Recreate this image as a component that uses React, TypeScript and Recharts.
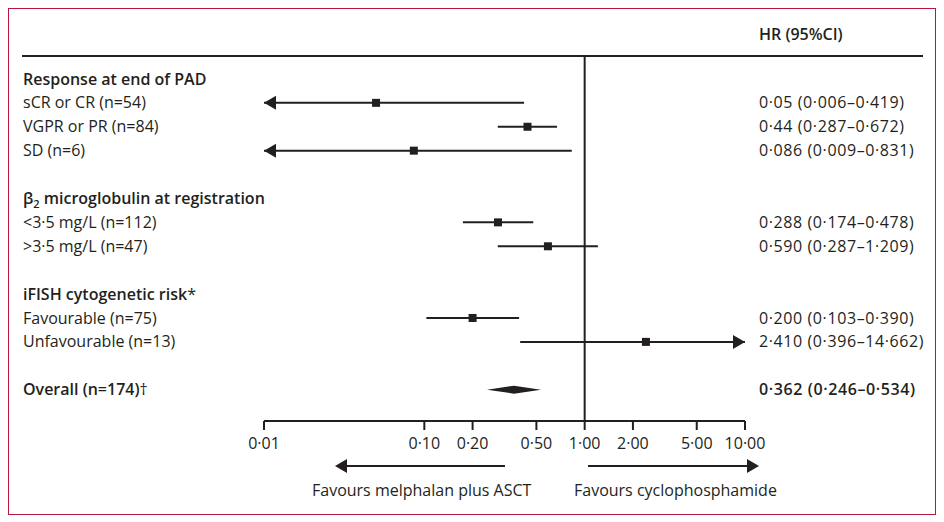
import React from 'react';
import { ScatterChart, Scatter, XAxis, YAxis, ReferenceLine } from 'recharts';

// subgroup rows (row index = vertical slot in the table)
const subgroups = [
    'sCR or CR (n=54)',
    'VGPR or PR (n=84)',
    'SD (n=6)',
    '<3·5 mg/L (n=112)',
    '>3·5 mg/L (n=47)',
    'Favourable (n=75)',
    'Unfavourable (n=13)',
];
const subgroupRows = [1, 2, 3, 6, 7, 10, 11];
const hr = [0.05, 0.44, 0.086, 0.288, 0.59, 0.2, 2.41];
const ciLow = [0.006, 0.287, 0.009, 0.174, 0.287, 0.103, 0.396];
const ciHigh = [0.419, 0.672, 0.831, 0.478, 1.209, 0.39, 14.662];
const hrText = [
    '0·05 (0·006–0·419)',
    '0·44 (0·287–0·672)',
    '0·086 (0·009–0·831)',
    '0·288 (0·174–0·478)',
    '0·590 (0·287–1·209)',
    '0·200 (0·103–0·390)',
    '2·410 (0·396–14·662)',
];

const groupHeaders = ['Response at end of PAD', 'β2 microglobulin at registration', 'iFISH cytogenetic risk'];
const groupRows = [0, 5, 9];

const overallLabel = 'Overall (n=174)';
const overallRow = 13;
const overallLow = 0.246;
const overallHigh = 0.534;
const overallText = '0·362 (0·246–0·534)';

const xTicks = [0.01, 0.1, 0.2, 0.5, 1, 2, 5, 10];
const xTickLabels = ['0·01', '0·10', '0·20', '0·50', '1·00', '2·00', '5·00', '10·00'];
const xMin = 0.01;
const xMax = 10;

const ink = '#231f20';
const font = '"Open Sans", sans-serif';
const rowDomain = [-0.96, 14.31];

const LeftTick = (props: any) => {
    const v = props.payload.value;
    const g = groupRows.indexOf(v);
    const s = subgroupRows.indexOf(v);
    const common = { x: 14, y: props.y, dy: '0.35em', fill: ink, fontSize: 16, fontFamily: font };
    if (g === 1) {
        return (
            <text {...common} fontWeight={600}>
                <tspan>β</tspan>
                <tspan dy={4} fontSize={11}>2</tspan>
                <tspan dy={-4}> microglobulin at registration</tspan>
            </text>
        );
    }
    if (g === 2) {
        return (
            <text {...common} fontWeight={600}>
                {groupHeaders[g]}
                <tspan fontWeight={400}>*</tspan>
            </text>
        );
    }
    if (g >= 0) return <text {...common} fontWeight={600}>{groupHeaders[g]}</text>;
    if (v === overallRow) {
        return (
            <text {...common} fontWeight={600}>
                {overallLabel}
                <tspan fontWeight={400}>†</tspan>
            </text>
        );
    }
    if (s >= 0) return <text {...common}>{subgroups[s]}</text>;
    return <g />;
};

const RightTick = (props: any) => {
    const v = props.payload.value;
    const s = subgroupRows.indexOf(v);
    const common = {
        x: 759 - 9, y: props.y, dy: '0.35em', fill: ink, fontSize: 16, fontFamily: font, letterSpacing: 0.6,
    };
    if (v === overallRow) return <text {...common} fontWeight={600}>{overallText}</text>;
    if (s >= 0) return <text {...common}>{hrText[s]}</text>;
    return <g />;
};

const ciShape = (leftArrow: boolean, rightArrow: boolean) => (p: any) => (
    <g>
        <line x1={p.x1} y1={p.y1} x2={p.x2} y2={p.y2} stroke={ink} strokeWidth={2} />
        {leftArrow && (
            <polygon points={`${p.x1},${p.y1} ${p.x1 + 12},${p.y1 - 7} ${p.x1 + 12},${p.y1 + 7}`} fill={ink} />
        )}
        {rightArrow && (
            <polygon points={`${p.x2},${p.y2} ${p.x2 - 12},${p.y2 - 7} ${p.x2 - 12},${p.y2 + 7}`} fill={ink} />
        )}
    </g>
);

const diamondShape = (p: any) => {
    const cx = (p.x1 + p.x2) / 2;
    return (
        <polygon
            points={`${p.x1},${p.y1} ${cx},${p.y1 - 4} ${p.x2},${p.y1} ${cx},${p.y1 + 4}`}
            fill={ink}
        />
    );
};

const squareShape = (p: any) => <rect x={p.cx - 4} y={p.cy - 4} width={8} height={8} fill={ink} />;

const App = () => {
    const points = subgroupRows.map((r, i) => ({ x: hr[i], y: r }));

    return (
        <div style={{ position: 'relative', width: 926, height: 505, border: '1px solid #b3163f' }}>
            <ScatterChart width={926} height={505} margin={{ top: 47, right: 0, bottom: 63, left: 0 }}>
                <XAxis
                    type="number"
                    dataKey="x"
                    scale="log"
                    domain={[xMin, xMax]}
                    allowDataOverflow
                    ticks={xTicks}
                    interval={0}
                    tickFormatter={(v: number) => xTickLabels[xTicks.indexOf(v)]}
                    height={30}
                    tickSize={9}
                    tickMargin={8}
                    axisLine={{ stroke: ink, strokeWidth: 2 }}
                    tickLine={{ stroke: ink, strokeWidth: 2 }}
                    tick={{ fill: ink, fontSize: 16, fontFamily: font }}
                />
                <YAxis
                    yAxisId="left"
                    type="number"
                    dataKey="y"
                    domain={rowDomain}
                    reversed
                    allowDataOverflow
                    ticks={[...groupRows, ...subgroupRows, overallRow]}
                    interval={0}
                    width={255}
                    axisLine={false}
                    tickLine={false}
                    tick={<LeftTick />}
                />
                <YAxis
                    yAxisId="right"
                    orientation="right"
                    type="number"
                    domain={rowDomain}
                    reversed
                    allowDataOverflow
                    ticks={[...subgroupRows, overallRow]}
                    interval={0}
                    width={190}
                    axisLine={false}
                    tickLine={false}
                    tick={<RightTick />}
                />
                <ReferenceLine yAxisId="left" x={1} stroke={ink} strokeWidth={2} />
                {subgroupRows.map((r, i) => (
                    <ReferenceLine
                        key={r}
                        yAxisId="left"
                        ifOverflow="visible"
                        segment={[
                            { x: Math.max(ciLow[i], xMin), y: r },
                            { x: Math.min(ciHigh[i], xMax), y: r },
                        ]}
                        shape={ciShape(ciLow[i] < xMin, ciHigh[i] > xMax)}
                    />
                ))}
                <ReferenceLine
                    yAxisId="left"
                    ifOverflow="visible"
                    segment={[
                        { x: overallLow, y: overallRow },
                        { x: overallHigh, y: overallRow },
                    ]}
                    shape={diamondShape}
                />
                <Scatter yAxisId="left" data={points} shape={squareShape} isAnimationActive={false} />
            </ScatterChart>
            <svg
                width={926}
                height={505}
                style={{ position: 'absolute', left: 0, top: 0, pointerEvents: 'none' }}
            >
                <line x1={13} y1={47} x2={914} y2={47} stroke={ink} strokeWidth={2} />
                <text x={750} y={25} dy="0.35em" fill={ink} fontSize={16} fontFamily={font} fontWeight={600}>
                    HR (95%CI)
                </text>
                <line x1={496} y1={457} x2={336} y2={457} stroke={ink} strokeWidth={2} />
                <polygon points="326,457 338,450 338,464" fill={ink} />
                <line x1={579} y1={457} x2={740} y2={457} stroke={ink} strokeWidth={2} />
                <polygon points="750,457 738,450 738,464" fill={ink} />
                <text x={303} y={481} dy="0.35em" fill={ink} fontSize={16} fontFamily={font}>
                    Favours melphalan plus ASCT
                </text>
                <text x={565} y={481} dy="0.35em" fill={ink} fontSize={16} fontFamily={font}>
                    Favours cyclophosphamide
                </text>
            </svg>
        </div>
    );
};

export default App;
